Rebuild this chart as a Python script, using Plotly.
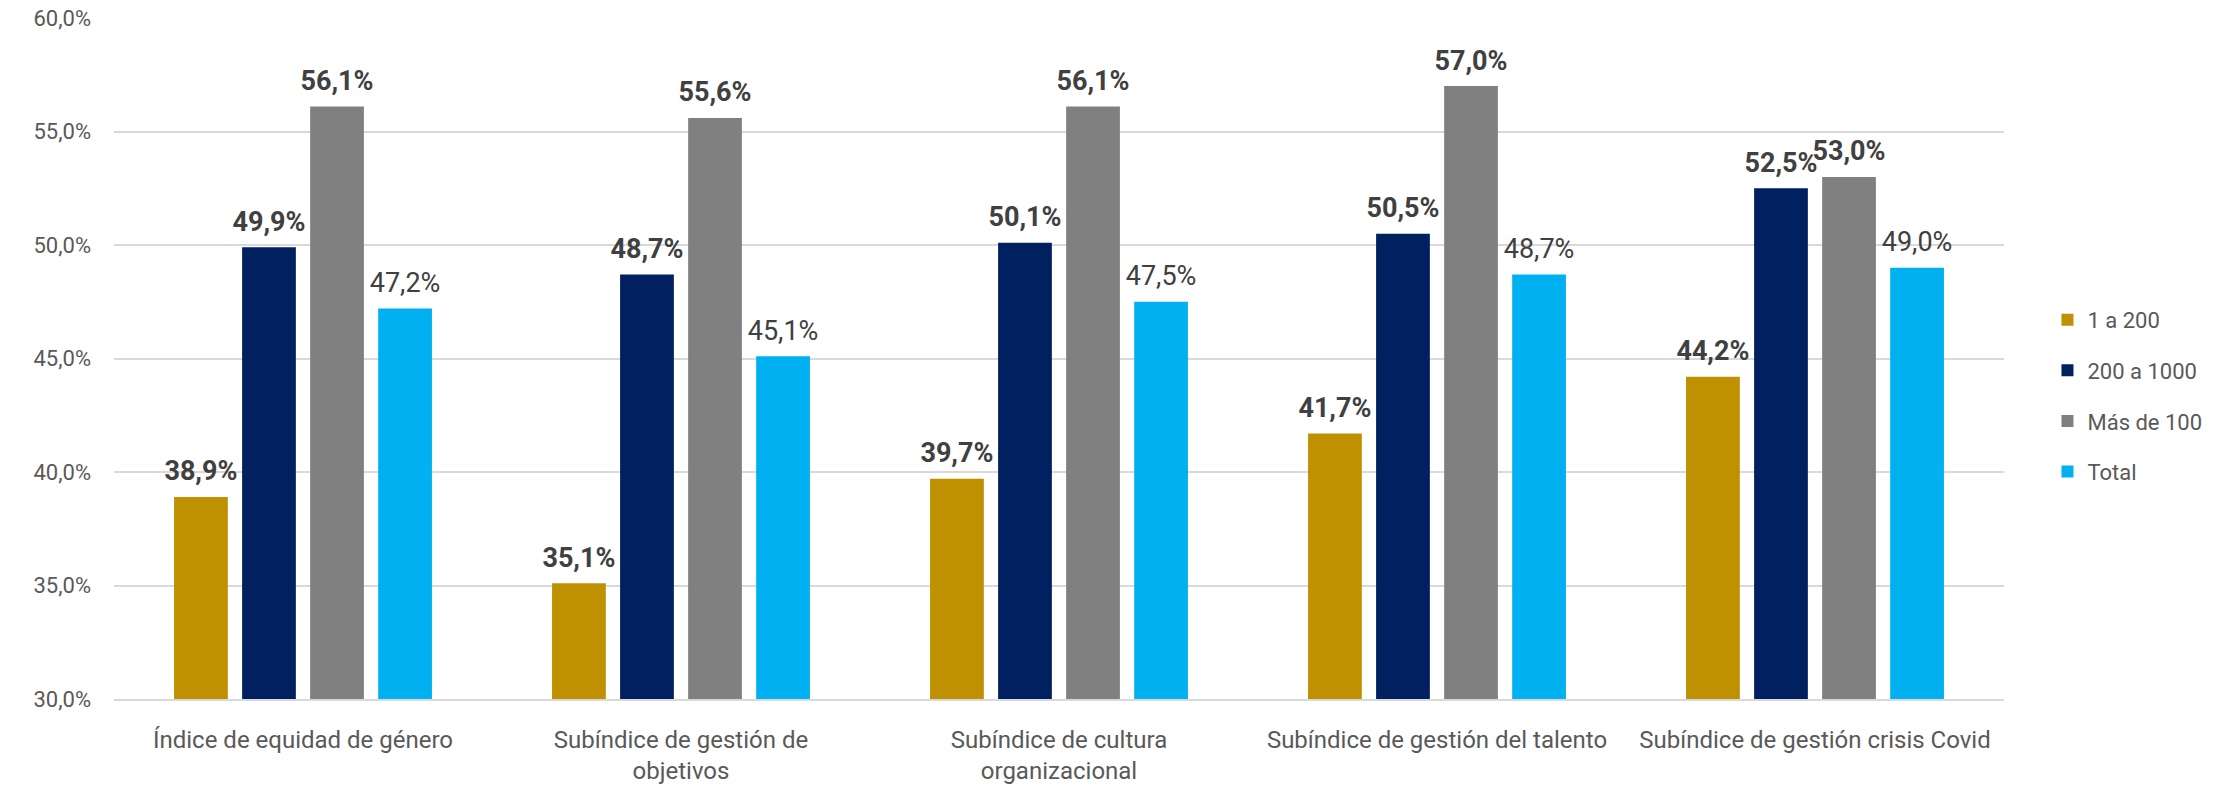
import plotly.graph_objects as go

categories = [
    "Índice de equidad de género",
    "Subíndice de gestión de<br>objetivos",
    "Subíndice de cultura<br>organizacional",
    "Subíndice de gestión del talento",
    "Subíndice de gestión crisis Covid",
]
series_names = ["1 a 200", "200 a 1000", "Más de 100", "Total"]
v_1_200 = [38.9, 35.1, 39.7, 41.7, 44.2]
v_200_1000 = [49.9, 48.7, 50.1, 50.5, 52.5]
v_mas_100 = [56.1, 55.6, 56.1, 57.0, 53.0]
v_total = [47.2, 45.1, 47.5, 48.7, 49.0]
series_values = [v_1_200, v_200_1000, v_mas_100, v_total]
colors = ["#BF9000", "#002060", "#808080", "#00B0F0"]
bold = [True, True, True, False]

FONT = "Roboto"
BARGAP = 0.28

fig = go.Figure()
for i, (name, vals) in enumerate(zip(series_names, series_values)):
    fig.add_trace(go.Bar(
        name=name,
        x=categories,
        y=vals,
        marker=dict(color=colors[i], line=dict(width=0)),
        legendgroup=name,
        hoverinfo="skip",
    ))

# value labels: grouped scatter text aligned with the grouped bars
for i, (name, vals) in enumerate(zip(series_names, series_values)):
    txt = [("<b>%s%%</b>" if bold[i] else "%s%%") % f"{v:.1f}".replace(".", ",") for v in vals]
    fig.add_trace(go.Scatter(
        x=categories,
        y=vals,
        mode="markers+text",
        marker=dict(size=14, opacity=0, color=colors[i]),
        text=txt,
        textposition="top center",
        textfont=dict(family=FONT, size=27, color="#404040"),
        cliponaxis=False,
        showlegend=False,
        legendgroup=name,
        hoverinfo="skip",
    ))

fig.update_layout(
    width=2228, height=786,
    barmode="group",
    bargap=BARGAP,
    bargroupgap=0.21,
    scattermode="group",
    scattergap=BARGAP,
    separators=",.",
    plot_bgcolor="white",
    paper_bgcolor="white",
    margin=dict(l=114, r=224, t=18, b=87, autoexpand=False),
    font=dict(family=FONT, size=22, color="#595959"),
    legend=dict(
        x=1.023, xanchor="left", y=0.445, yanchor="middle",
        font=dict(family=FONT, size=22, color="#595959"),
        traceorder="grouped", tracegroupgap=19,
        itemwidth=30,
    ),
    showlegend=True,
)
fig.update_yaxes(
    range=[30, 60], dtick=5, tick0=30,
    tickformat=".1f", ticksuffix="%",
    showgrid=True, gridcolor="#D9D9D9", gridwidth=1.5,
    zeroline=False, showline=False,
    tickfont=dict(family=FONT, size=22, color="#595959"),
    ticklabelstandoff=22,
)
fig.update_xaxes(
    showline=True, linecolor="#D9D9D9", linewidth=2,
    tickfont=dict(family=FONT, size=24, color="#595959"),
    ticks="", ticklabelstandoff=18,
)
fig.write_html("out.html")
